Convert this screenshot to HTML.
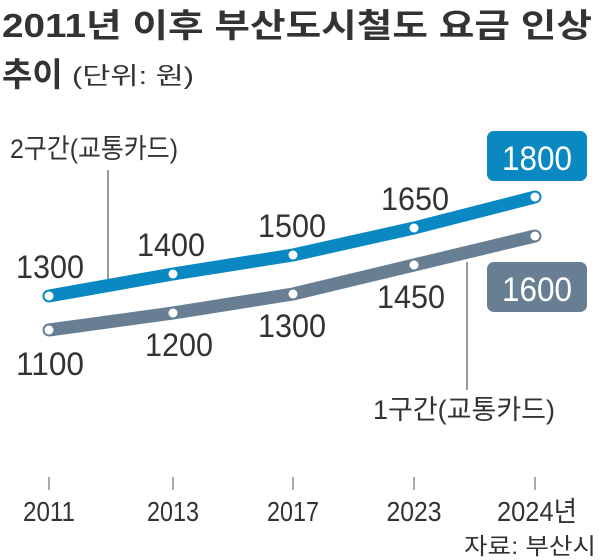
<!DOCTYPE html>
<html><head><meta charset="utf-8"><style>
html,body{margin:0;padding:0;background:#fff;}
svg{display:block;font-family:"Liberation Sans","Noto Sans CJK KR",sans-serif;}
</style></head><body>
<svg width="600" height="560" viewBox="0 0 600 560" xmlns="http://www.w3.org/2000/svg">
<text x="2" y="37" font-size="33" font-weight="bold" fill="#333" textLength="590" lengthAdjust="spacingAndGlyphs">2011년 이후 부산도시철도 요금 인상</text>
<text x="2" y="86" font-size="33" font-weight="bold" fill="#333">추이</text>
<text x="72" y="84" font-size="24" fill="#333" textLength="122" lengthAdjust="spacingAndGlyphs">(단위: 원)</text>

<text x="10" y="158" font-size="27" fill="#333" textLength="168" lengthAdjust="spacingAndGlyphs">2구간(교통카드)</text>
<line x1="108" y1="170" x2="108" y2="280" stroke="#333" stroke-width="1"/>
<line x1="467" y1="262" x2="467" y2="390" stroke="#333" stroke-width="1"/>
<text x="373" y="419" font-size="27" fill="#333" textLength="182" lengthAdjust="spacingAndGlyphs">1구간(교통카드)</text>

<polyline points="49,296 173,274 293,255 414,228 535,197" fill="none" stroke="#0a88c2" stroke-width="13" stroke-linecap="round" stroke-linejoin="round"/>
<polyline points="49,330 173,313 293,294 414,265 535,236" fill="none" stroke="#687f93" stroke-width="13" stroke-linecap="round" stroke-linejoin="round"/>
<g fill="#fff">
<circle cx="49" cy="296" r="4.5"/><circle cx="173" cy="274" r="4.5"/><circle cx="293" cy="255" r="4.5"/><circle cx="414" cy="228" r="4.5"/><circle cx="535" cy="197" r="4.5"/>
<circle cx="49" cy="330" r="4.5"/><circle cx="173" cy="313" r="4.5"/><circle cx="293" cy="294" r="4.5"/><circle cx="414" cy="265" r="4.5"/><circle cx="535" cy="236" r="4.5"/>
</g>
<g font-size="32" fill="#333">
<text x="16" y="278" textLength="68" lengthAdjust="spacingAndGlyphs">1300</text>
<text x="137" y="256" textLength="68" lengthAdjust="spacingAndGlyphs">1400</text>
<text x="258" y="237" textLength="68" lengthAdjust="spacingAndGlyphs">1500</text>
<text x="381" y="210" textLength="68" lengthAdjust="spacingAndGlyphs">1650</text>
<text x="16" y="375" textLength="68" lengthAdjust="spacingAndGlyphs">1100</text>
<text x="145" y="356" textLength="68" lengthAdjust="spacingAndGlyphs">1200</text>
<text x="258" y="337" textLength="68" lengthAdjust="spacingAndGlyphs">1300</text>
<text x="377" y="308" textLength="68" lengthAdjust="spacingAndGlyphs">1450</text>
</g>
<rect x="487" y="131" width="100" height="50" rx="7" fill="#0a88c2"/>
<text x="537" y="170" font-size="34" fill="#fff" text-anchor="middle" textLength="70" lengthAdjust="spacingAndGlyphs">1800</text>
<rect x="487" y="262" width="100" height="50" rx="7" fill="#687f93"/>
<text x="537" y="301" font-size="34" fill="#fff" text-anchor="middle" textLength="70" lengthAdjust="spacingAndGlyphs">1600</text>

<g stroke="#555" stroke-width="1">
<line x1="49" y1="477" x2="49" y2="490"/><line x1="173" y1="477" x2="173" y2="490"/><line x1="293" y1="477" x2="293" y2="490"/><line x1="414" y1="477" x2="414" y2="490"/><line x1="535" y1="477" x2="535" y2="490"/>
</g>
<g font-size="28" fill="#333">
<text x="49" y="521" text-anchor="middle" textLength="52" lengthAdjust="spacingAndGlyphs">2011</text>
<text x="173" y="521" text-anchor="middle" textLength="52" lengthAdjust="spacingAndGlyphs">2013</text>
<text x="293" y="521" text-anchor="middle" textLength="52" lengthAdjust="spacingAndGlyphs">2017</text>
<text x="414" y="521" text-anchor="middle" textLength="55" lengthAdjust="spacingAndGlyphs">2023</text>
<text x="497" y="521" textLength="80" lengthAdjust="spacingAndGlyphs">2024년</text>
</g>
<text x="464" y="554" font-size="23" fill="#333" textLength="132" lengthAdjust="spacingAndGlyphs">자료: 부산시</text>
</svg>
</body></html>
